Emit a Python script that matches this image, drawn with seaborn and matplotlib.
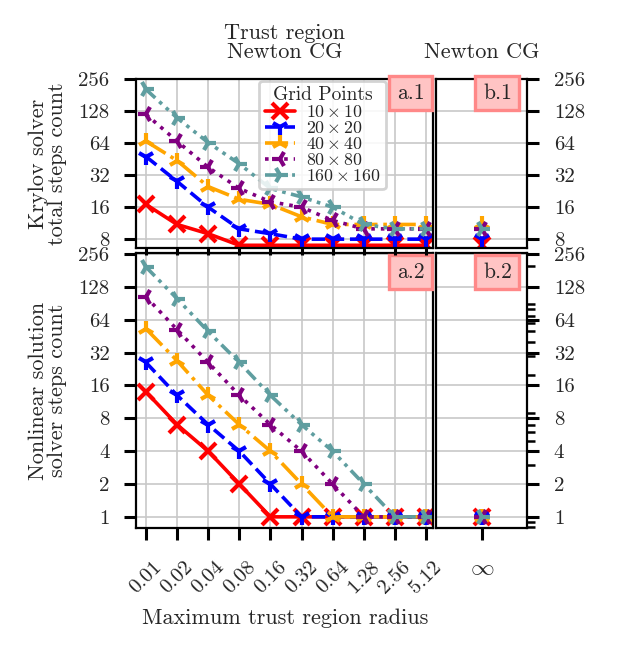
import numpy as np
import pandas as pd
import matplotlib
matplotlib.use("Agg")
import matplotlib.pyplot as plt
import seaborn as sns
from matplotlib.ticker import FixedLocator, FixedFormatter, LogLocator, NullFormatter, NullLocator

radius_labels = ["0.01", "0.02", "0.04", "0.08", "0.16", "0.32", "0.64", "1.28", "2.56", "5.12"]
grid_labels = [r"$10\times10$", r"$20\times20$", r"$40\times40$", r"$80\times80$", r"$160\times160$"]

# Krylov solver total steps, trust region Newton CG
krylov_tr_10 = [17, 11, 9, 7, 7, 7, 7, 7, 7, 7]
krylov_tr_20 = [48, 28, 16, 10, 9, 8, 8, 8, 8, 8]
krylov_tr_40 = [67, 44, 25, 19, 17, 13, 11, 11, 11, 11]
krylov_tr_80 = [120, 67, 38, 24, 18, 16, 12, 10, 10, 10]
krylov_tr_160 = [206, 111, 65, 41, 24, 20, 16, 11, 10, 10]

# Nonlinear solver steps, trust region Newton CG
nonlin_tr_10 = [14, 7, 4, 2, 1, 1, 1, 1, 1, 1]
nonlin_tr_20 = [26, 13, 7, 4, 2, 1, 1, 1, 1, 1]
nonlin_tr_40 = [53, 27, 13, 7, 4, 2, 1, 1, 1, 1]
nonlin_tr_80 = [104, 52, 26, 13, 7, 4, 2, 1, 1, 1]
nonlin_tr_160 = [195, 100, 50, 26, 13, 7, 4, 2, 1, 1]

# plain Newton CG (infinite radius), one value per grid
krylov_ncg = [7, 8, 11, 10, 10]
nonlin_ncg = [1, 1, 1, 1, 1]

krylov_ticks = [8, 16, 32, 64, 128, 256]
nonlin_ticks = [1, 2, 4, 8, 16, 32, 64, 128, 256]

colors = ["red", "blue", "orange", "purple", "cadetblue"]
markers = ["x", "1", "2", "3", "4"]
dashes = ["", (3.7, 1.6), (6.4, 1.6, 1, 1.6), (1, 1.65), (3.5, 1.5, 1, 1.5, 1, 1.5)]

sns.set_theme(style="ticks")
plt.rcParams["font.family"] = ["cmr10", "DejaVu Serif"]
plt.rcParams["mathtext.fontset"] = "cm"
plt.rcParams["axes.formatter.use_mathtext"] = True
plt.rcParams["axes.unicode_minus"] = False
plt.rcParams["axes.linewidth"] = 0.8
plt.rcParams["axes.edgecolor"] = "black"


def long_frame(series, x):
    rows = []
    for label, values in zip(grid_labels, series):
        for xi, v in zip(x, values):
            rows.append({"x": xi, "steps": v, "grid": label})
    return pd.DataFrame(rows)


def draw_lines(ax, df):
    sns.lineplot(
        data=df, x="x", y="steps", hue="grid", style="grid",
        hue_order=grid_labels, style_order=grid_labels,
        palette=dict(zip(grid_labels, colors)),
        markers=dict(zip(grid_labels, markers)),
        dashes=dict(zip(grid_labels, dashes)),
        markersize=6, linewidth=1.3, legend=False, ax=ax,
    )
    for line in ax.get_lines():
        line.set_markeredgecolor(line.get_color())
        line.set_markeredgewidth(1.5)


def style_y(ax, ticks, lim, right=False):
    ax.set_yscale("log", base=2)
    ax.set_ylim(*lim)
    ax.yaxis.set_major_locator(FixedLocator(ticks))
    ax.yaxis.set_major_formatter(FixedFormatter([str(t) for t in ticks]))
    ax.yaxis.set_minor_locator(NullLocator())
    if right:
        ax.yaxis.tick_right()
        ax.yaxis.set_label_position("right")
    ax.tick_params(axis="y", which="major", direction="out", length=4.3, width=1.1,
                   pad=5.2, labelsize=7.5, color="black")
    ax.set_ylabel("")
    ax.set_xlabel("")


x_pos = np.arange(len(radius_labels))

fig = plt.figure(figsize=(6.17 / 2, 6.53 / 2), dpi=200)
gs = fig.add_gridspec(2, 2, left=0.2204, right=0.8549, top=0.879, bottom=0.1914,
                      width_ratios=[297.5, 91.5], height_ratios=[169, 275],
                      wspace=0.013, hspace=0.0225)
ax_tl = fig.add_subplot(gs[0, 0])
ax_tr = fig.add_subplot(gs[0, 1])
ax_bl = fig.add_subplot(gs[1, 0])
ax_br = fig.add_subplot(gs[1, 1])
ax_tl.set_zorder(3)

krylov_tr = [krylov_tr_10, krylov_tr_20, krylov_tr_40, krylov_tr_80, krylov_tr_160]
nonlin_tr = [nonlin_tr_10, nonlin_tr_20, nonlin_tr_40, nonlin_tr_80, nonlin_tr_160]

draw_lines(ax_tl, long_frame(krylov_tr, x_pos))
draw_lines(ax_bl, long_frame(nonlin_tr, x_pos))
draw_lines(ax_tr, long_frame([[v] for v in krylov_ncg], [0]))
draw_lines(ax_br, long_frame([[v] for v in nonlin_ncg], [0]))

style_y(ax_tl, krylov_ticks, (6.6, 258))
style_y(ax_tr, krylov_ticks, (6.6, 258), right=True)
style_y(ax_bl, nonlin_ticks, (0.79, 262))
style_y(ax_br, nonlin_ticks, (0.79, 262), right=True)

ax_br.yaxis.set_minor_locator(LogLocator(base=10, subs=np.arange(2, 10)))
ax_br.yaxis.set_minor_formatter(NullFormatter())
ax_br.tick_params(axis="y", which="minor", direction="out", length=2.9, width=0.9, color="black")

for ax in (ax_tl, ax_bl):
    ax.set_xlim(-0.32, 9.24)
    ax.set_xticks(x_pos)
    ax.grid(True, color="#c8c8c8", linewidth=0.6)
for ax in (ax_tr, ax_br):
    ax.set_xlim(-0.5, 0.5)
    ax.grid(True, axis="y", color="#c8c8c8", linewidth=0.6)
    ax.grid(False, axis="x")

ax_tl.tick_params(axis="x", direction="out", length=2.5, width=1.1, labelbottom=False, color="black")
ax_bl.set_xticklabels(radius_labels, rotation=45)
ax_bl.tick_params(axis="x", direction="out", length=4.3, width=1.1, pad=6.5, labelsize=7.5, color="black")
ax_tr.tick_params(axis="x", bottom=False, labelbottom=False)
ax_br.set_xticks([0])
ax_br.set_xticklabels([r"$\infty$"])
ax_br.tick_params(axis="x", direction="out", length=4.3, width=1.1, pad=6.0, labelsize=8.5, color="black")

ax_tl.set_ylabel("Krylov solver\ntotal steps count", fontsize=8, labelpad=4, linespacing=1.0)
ax_bl.set_ylabel("Nonlinear solution\nsolver steps count", fontsize=8, labelpad=4, linespacing=1.0)
ax_bl.set_xlabel("Maximum trust region radius", fontsize=8, labelpad=4)
fig.align_ylabels([ax_tl, ax_bl])

ax_tl.set_title("Trust region\nNewton CG", fontsize=8, pad=7.5, linespacing=0.95)
ax_tr.set_title("Newton CG", fontsize=8, pad=7.5)

leg = ax_tl.legend(handles=ax_tl.get_lines(), labels=grid_labels, title="Grid Points",
                   loc="upper right", bbox_to_anchor=(0.845, 1.0), borderaxespad=0.1,
                   fontsize=6.4, title_fontsize=7, handlelength=1.7, handletextpad=0.6,
                   labelspacing=0.0, borderpad=0.3, frameon=True, fancybox=True,
                   edgecolor="#cccccc", framealpha=0.85)
leg.get_frame().set_linewidth(1.0)

box = dict(boxstyle="square,pad=0.35", fc="#ffc4c4", ec="#ff8888", lw=1.2)
ax_tl.text(0.923, 0.917, "a.1", transform=ax_tl.transAxes, ha="center", va="center", fontsize=7.8, bbox=box)
ax_tr.text(0.672, 0.917, "b.1", transform=ax_tr.transAxes, ha="center", va="center", fontsize=7.8, bbox=box)
ax_bl.text(0.923, 0.931, "a.2", transform=ax_bl.transAxes, ha="center", va="center", fontsize=7.8, bbox=box)
ax_br.text(0.672, 0.931, "b.2", transform=ax_br.transAxes, ha="center", va="center", fontsize=7.8, bbox=box)

fig.savefig("out.png", dpi=200)
